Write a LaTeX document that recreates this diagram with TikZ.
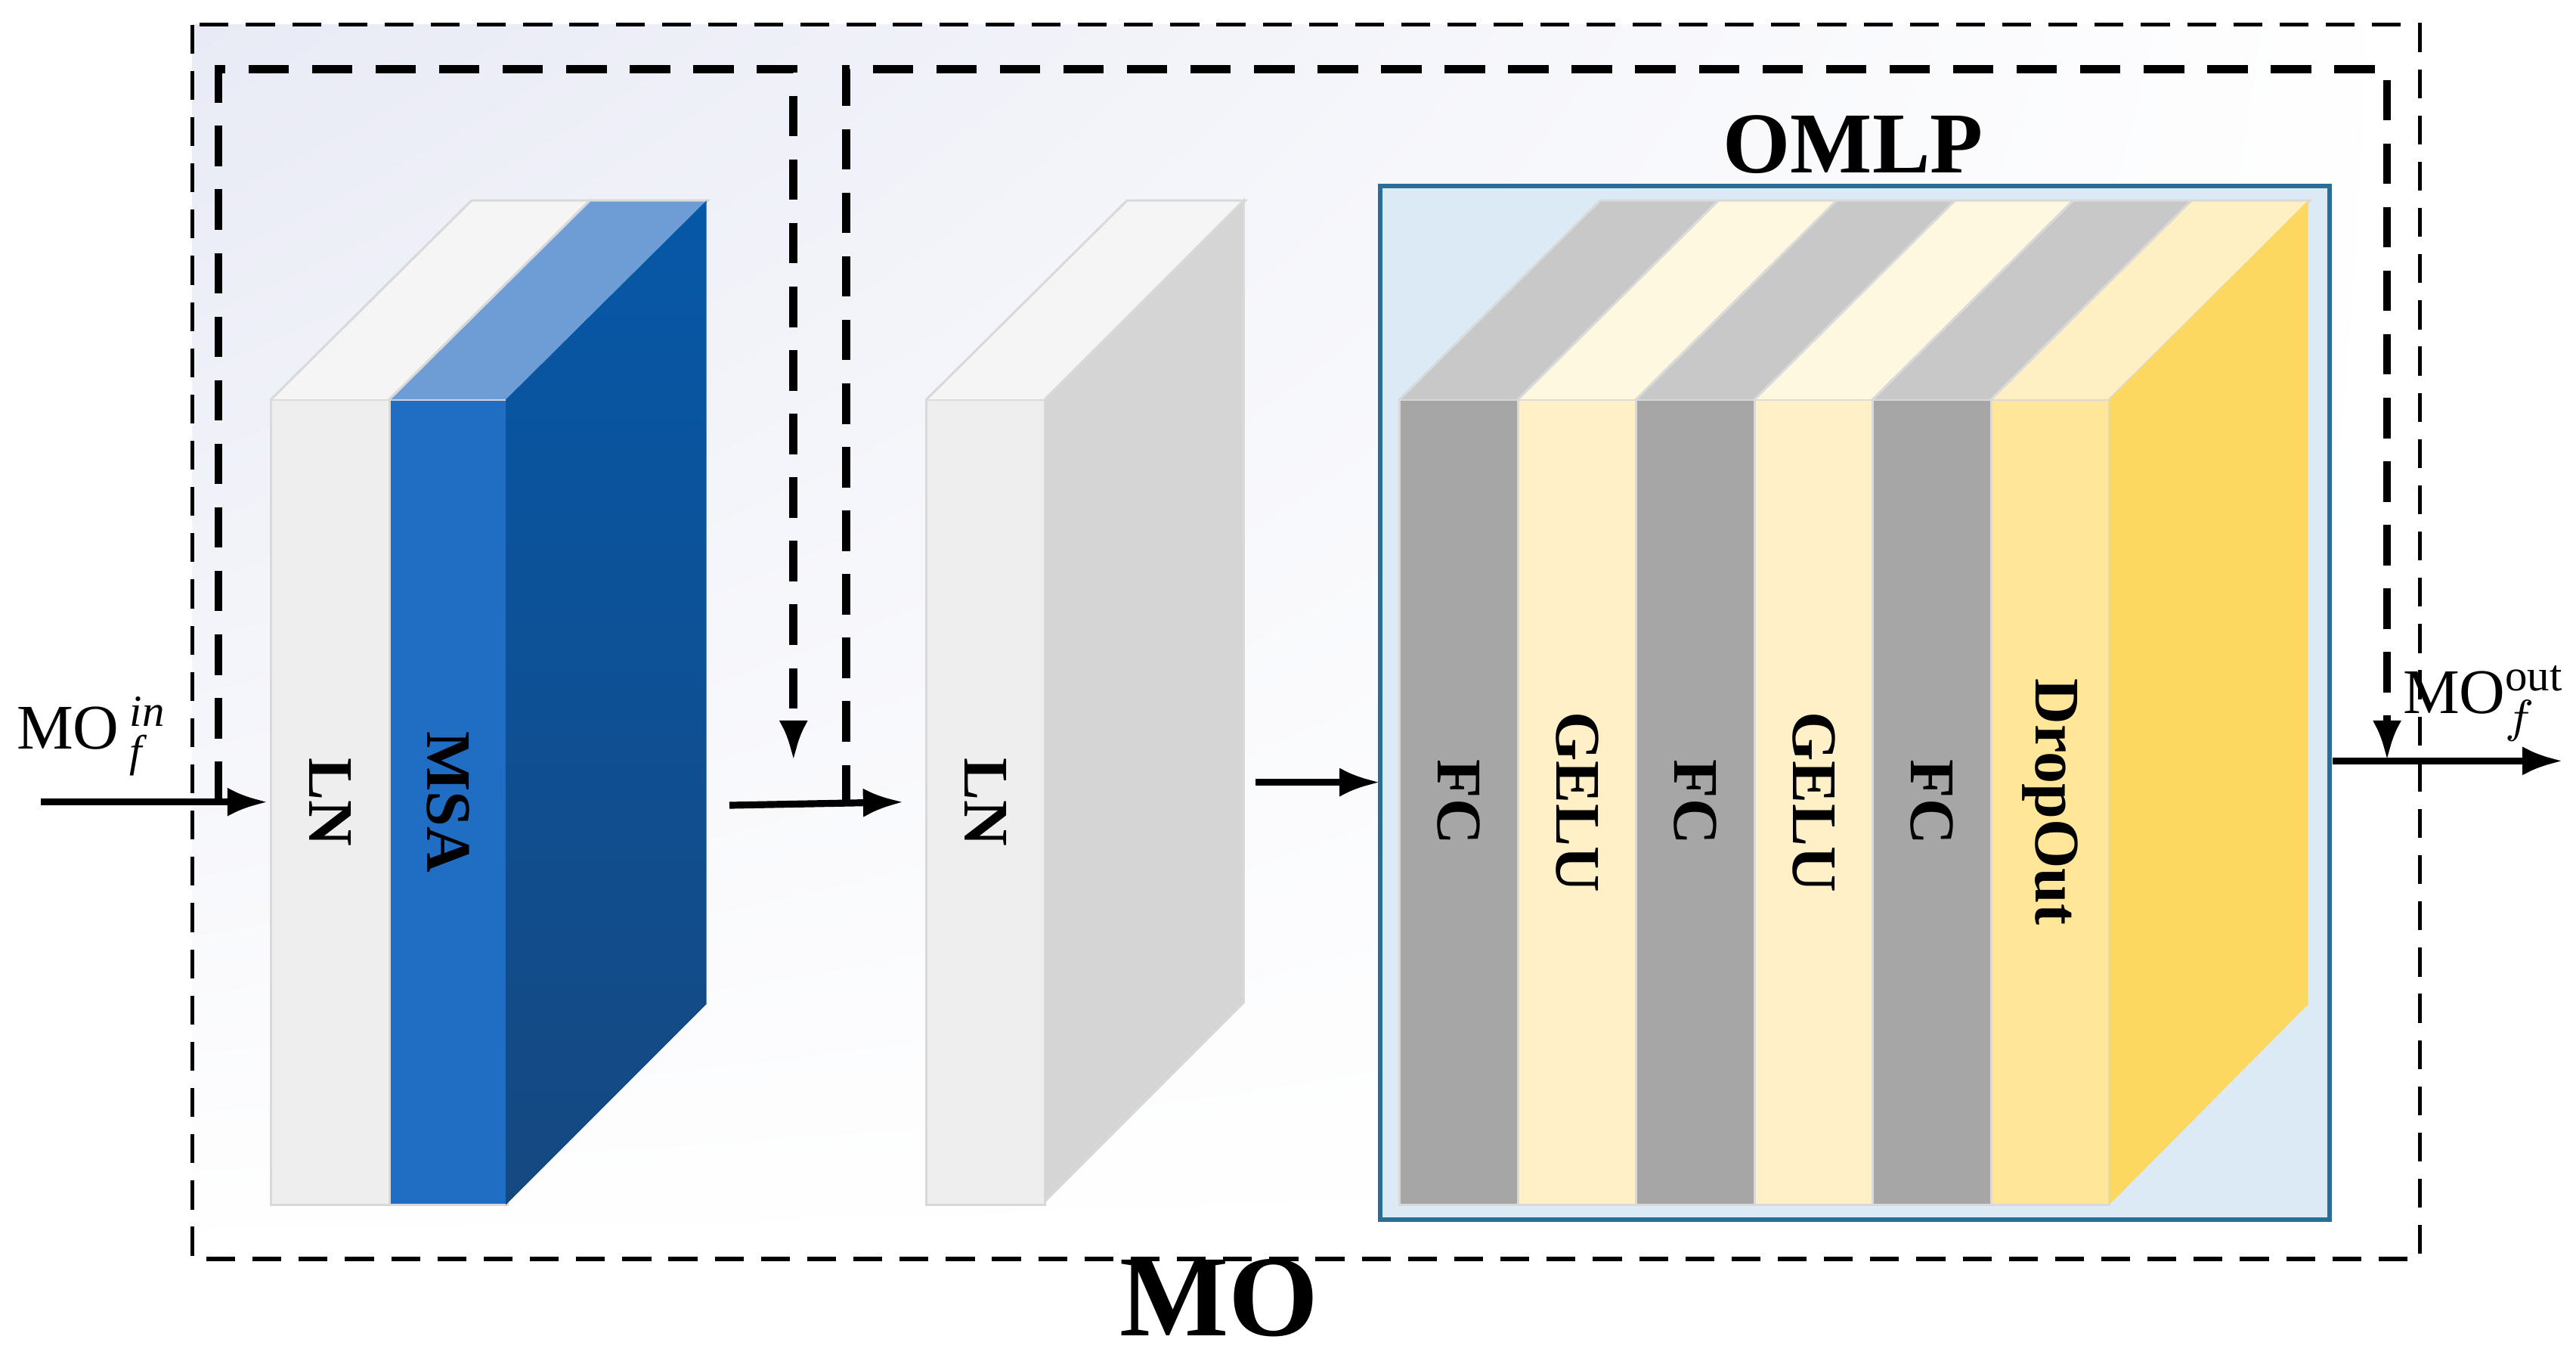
\documentclass[tikz,border=0pt]{standalone}
\usepackage{fontspec}
\setmainfont{Liberation Serif}
\usetikzlibrary{arrows.meta,shadings}
\definecolor{lnfront}{RGB}{238,238,238}
\definecolor{lntop}{RGB}{245,245,245}
\definecolor{lnside}{RGB}{213,213,213}
\definecolor{msafront}{RGB}{31,110,196}
\definecolor{msatop}{RGB}{110,156,213}
\definecolor{msasidetop}{RGB}{6,88,168}
\definecolor{msaside}{RGB}{22,72,128}
\definecolor{fcfront}{RGB}{166,166,166}
\definecolor{fctop}{RGB}{200,200,200}
\definecolor{gelufront}{RGB}{255,240,200}
\definecolor{gelutop}{RGB}{255,248,225}
\definecolor{dropfront}{RGB}{255,230,153}
\definecolor{droptop}{RGB}{255,240,195}
\definecolor{dropside}{RGB}{253,216,96}
\definecolor{omlpfill}{RGB}{219,234,245}
\definecolor{omlpline}{RGB}{40,110,150}
\definecolor{bglav}{RGB}{232,234,245}

\tikzset{
  face/.style={draw=black!15, line width=0.4pt},
  layer/.style={rotate=-90, font=\fontsize{11}{13}\selectfont\bfseries},
  skip/.style={line width=1.4pt, dash pattern=on 7pt off 4pt},
  flow/.style={line width=1.2pt, -{Latex[length=7pt,width=5pt]}},
}

% front x, front colour, top colour
\newcommand{\slab}[3]{%
  \fill[#2] (#1,243) rectangle ++(72,490);
  \draw[face] (#1,243) rectangle ++(72,490);
  \fill[#3] (#1,243) -- ++(122,-121) -- ++(72,0) -- ++(-122,121) -- cycle;
  \draw[face] (#1,243) -- ++(122,-121) -- ++(72,0) -- ++(-122,121);
}

\begin{document}
\begin{tikzpicture}[x=0.01cm, y=-0.01cm]
\useasboundingbox (0,0) rectangle (1568,826);

% Outer frame
\shade[upper left=bglav, upper right=white, lower left=white, lower right=white] (117,15) rectangle (1473,766);
\draw[line width=0.7pt, dash pattern=on 5pt off 3pt] (117,15) rectangle (1473,766);
\node[font=\fontsize{20}{22}\selectfont\bfseries] (mo) at (742,790) {MO};

% Block 1: LN + MSA
\slab{165}{lnfront}{lntop}
\slab{237}{msafront}{msatop}
\shade[top color=msasidetop, bottom color=msaside] (308,243) -- (430,122) -- (430,611) -- (308,733) -- cycle;
\node[layer] (ln1) at (201,488) {LN};
\node[layer] (msa) at (273,488) {MSA};

% Block 2: LN
\slab{564}{lnfront}{lntop}
\fill[lnside] (636,243) -- (757,122) -- (757,610) -- (636,731) -- cycle;
\draw[face] (636,243) -- (757,122) -- (757,610) -- (636,731);
\node[layer] (ln2) at (600,488) {LN};

% OMLP
\draw[omlpline, fill=omlpfill, line width=0.8pt] (840,113) rectangle (1418,742);
\node[font=\fontsize{15}{17}\selectfont\bfseries] (omlp) at (1128,88) {OMLP};
\slab{852}{fcfront}{fctop}
\slab{924}{gelufront}{gelutop}
\slab{996}{fcfront}{fctop}
\slab{1068}{gelufront}{gelutop}
\slab{1140}{fcfront}{fctop}
\slab{1212}{dropfront}{droptop}
\fill[dropside] (1284,243) -- (1405,122) -- (1405,611) -- (1284,733) -- cycle;
\foreach \x/\name/\lbl in {888/fca/FC, 960/gelua/GELU, 1032/fcb/FC, 1104/gelub/GELU, 1176/fcc/FC, 1248/drop/DropOut}
  \node[layer] (\name) at (\x,488) {\lbl};

% Main flow
\coordinate (in) at (25,488);
\coordinate (inend) at (163,488);
\node[font=\fontsize{11}{13}\selectfont] (moin) at (56,448) {MO\,$^{\mathit{in}}_{\mathit{f}}$};
\draw[flow] (in) -- (inend);
\coordinate (mida) at (444,490);
\coordinate (midb) at (550,488);
\draw[flow] (mida) -- (midb);
\coordinate (omlpa) at (764,476);
\coordinate (omlpb) at (840,476);
\draw[flow] (omlpa) -- (omlpb);
\coordinate (outa) at (1420,463);
\coordinate (outb) at (1560,463);
\draw[flow] (outa) -- (outb);
\node[font=\fontsize{11}{13}\selectfont] (moout) at (1512,428) {MO$^{\mathrm{out}}_{f}$};

% Skip connections
\coordinate (skipa) at (133,488);
\coordinate (skipaend) at (483,463);
\draw[skip, -{Latex[length=7pt,width=5pt]}] (skipa) -- (133,42) -- (483,42) -- (skipaend);
\coordinate (skipb) at (515,490);
\coordinate (skipbend) at (1453,463);
\draw[skip, -{Latex[length=7pt,width=5pt]}] (skipb) -- (515,42) -- (1453,42) -- (skipbend);
\end{tikzpicture}
\end{document}
